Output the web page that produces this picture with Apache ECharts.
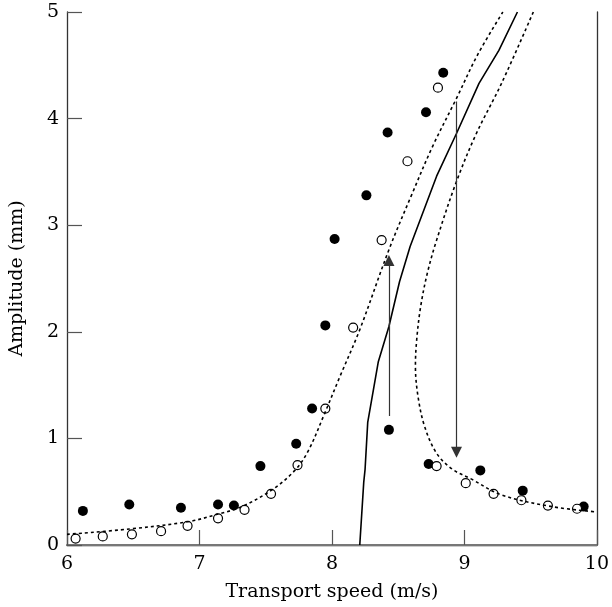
<!DOCTYPE html>
<html>
<head>
<meta charset="utf-8">
<script src="https://cdn.jsdelivr.net/npm/echarts@6/dist/echarts.min.js"></script>
<style>
  html, body { margin: 0; padding: 0; background: #fff; }
  #main { width: 612px; height: 607px; }
</style>
</head>
<body>
<div id="main"></div>
<script>
// measured points, filled circles (speed m/s, amplitude mm)
const filledPts = [
  [6.12, 0.32], [6.47, 0.38], [6.86, 0.35], [7.14, 0.38], [7.26, 0.37],
  [7.46, 0.74], [7.73, 0.95], [7.85, 1.28], [7.95, 2.06], [8.02, 2.87],
  [8.26, 3.28], [8.42, 3.87], [8.71, 4.06], [8.84, 4.43],
  [8.43, 1.08], [8.73, 0.76], [9.12, 0.70], [9.44, 0.51], [9.90, 0.36]
];
// measured points, open circles
const openPts = [
  [6.065, 0.06], [6.27, 0.08], [6.49, 0.10], [6.71, 0.13], [6.91, 0.18],
  [7.14, 0.25], [7.34, 0.33], [7.54, 0.48], [7.74, 0.75], [7.95, 1.28],
  [8.16, 2.04], [8.375, 2.86], [8.57, 3.60], [8.80, 4.29],
  [8.79, 0.74], [9.01, 0.58], [9.22, 0.48], [9.43, 0.42], [9.63, 0.37], [9.85, 0.34]
];
// backbone curve (solid)
const backbone = [
  [8.21, 0], [8.24, 0.59], [8.25, 0.71], [8.27, 1.15], [8.35, 1.72],
  [8.43, 2.05], [8.51, 2.47], [8.59, 2.80], [8.79, 3.46], [8.94, 3.86],
  [9.11, 4.33], [9.26, 4.64], [9.40, 5.0]
];
// response curve, lower branch (dotted)
const leftBranch = [
  [6.0, 0.10], [6.47, 0.15], [6.92, 0.22], [7.14, 0.29], [7.32, 0.36],
  [7.55, 0.52], [7.72, 0.70], [7.82, 0.88], [7.94, 1.22], [8.06, 1.58],
  [8.21, 2.02], [8.43, 2.77], [8.60, 3.28], [8.76, 3.74], [8.94, 4.19],
  [9.10, 4.60], [9.29, 5.0]
];
// response curve, upper branch folding back (dotted)
const rightBranch = [
  [9.52, 5.0], [9.28, 4.33], [9.09, 3.86], [8.94, 3.41], [8.79, 2.86],
  [8.72, 2.55], [8.67, 2.24], [8.64, 1.93], [8.63, 1.68], [8.65, 1.39],
  [8.70, 1.11], [8.79, 0.86], [8.91, 0.71], [9.05, 0.62], [9.28, 0.47],
  [9.66, 0.36], [10.0, 0.31]
];
// jump arrows
const jumpUp = [[8.43, 1.21], [8.43, 2.67]];
const jumpDown = [[8.94, 4.16], [8.94, 0.87]];

const xTicks = [6, 7, 8, 9, 10];
const yTicks = [0, 1, 2, 3, 4, 5];

const font = '"DejaVu Serif", serif';
const myChart = echarts.init(document.getElementById('main'));

const dotted = (data) => ({
  type: 'line',
  data,
  showSymbol: false,
  smooth: 0.35,
  z: 5,
  lineStyle: { color: '#000', width: 1.6, type: [3, 3] }
});

const option = {
  animation: false,
  grid: { left: 64, right: 13, top: 12, bottom: 61 },
  xAxis: [
    {
      type: 'value', min: xTicks[0], max: xTicks[xTicks.length - 1], interval: 1,
      name: 'Transport speed (m/s)', nameLocation: 'middle', nameGap: 38,
      nameTextStyle: { fontFamily: font, fontSize: 19, color: '#000' },
      axisLine: { lineStyle: { color: '#333', width: 1.3 } },
      axisTick: { inside: true, length: 15, lineStyle: { color: '#555', width: 1.2 } },
      axisLabel: { fontFamily: font, fontSize: 19, color: '#000', margin: 10 },
      splitLine: { show: false }
    },
    {
      type: 'value', position: 'top', min: 6, max: 10,
      axisLine: { lineStyle: { color: '#777', width: 2 } },
      axisTick: { show: false }, axisLabel: { show: false }, splitLine: { show: false }
    }
  ],
  yAxis: [
    {
      type: 'value', min: yTicks[0], max: yTicks[yTicks.length - 1], interval: 1,
      name: 'Amplitude (mm)', nameLocation: 'middle', nameGap: 40,
      nameTextStyle: { fontFamily: font, fontSize: 19, color: '#000' },
      axisLine: { lineStyle: { color: '#333', width: 1.3 } },
      axisTick: { inside: true, length: 15, lineStyle: { color: '#555', width: 1.2 } },
      axisLabel: { fontFamily: font, fontSize: 19, color: '#000', margin: 8 },
      splitLine: { show: false }
    },
    {
      type: 'value', position: 'right', min: 0, max: 5,
      axisLine: { show: true, lineStyle: { color: '#333', width: 1.3 } },
      axisTick: { show: false }, axisLabel: { show: false }, splitLine: { show: false }
    }
  ],
  series: [
    {
      type: 'scatter', data: filledPts, symbol: 'circle', symbolSize: 10, z: 3,
      itemStyle: { color: '#000', opacity: 1 }
    },
    {
      type: 'scatter', data: openPts, symbol: 'circle', symbolSize: 9, z: 4,
      itemStyle: { color: '#fff', borderColor: '#000', borderWidth: 1.2, opacity: 1 }
    },
    dotted(leftBranch),
    dotted(rightBranch),
    {
      type: 'line', data: backbone, showSymbol: false, z: 5,
      lineStyle: { color: '#000', width: 1.6 }
    },
    {
      type: 'lines', coordinateSystem: 'cartesian2d', z: 6,
      symbol: ['none', 'triangle'], symbolSize: [8, 11],
      lineStyle: { color: '#333', width: 1.2, opacity: 1 },
      data: [{ coords: jumpUp }, { coords: jumpDown }]
    }
  ]
};
myChart.setOption(option);
</script>
</body>
</html>
